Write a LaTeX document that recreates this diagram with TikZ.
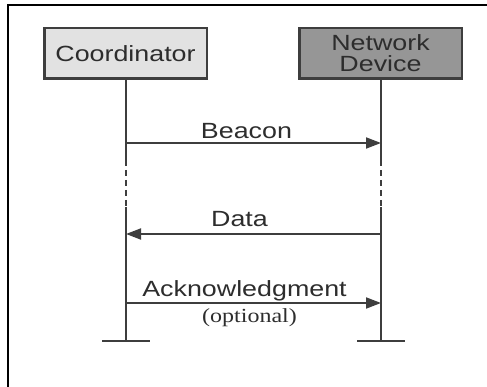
\documentclass[tikz,border=0pt]{standalone}
\usepackage{fontspec}
\setmainfont{Liberation Sans}[FakeStretch=1.22]
\newfontfamily\optfont{Liberation Serif}[FakeStretch=1.2]
\usetikzlibrary{positioning}
\usetikzlibrary{arrows.meta}
\definecolor{inkgray}{RGB}{62,62,62}
\definecolor{textgray}{RGB}{45,45,45}
\definecolor{boxlight}{RGB}{226,226,226}
\definecolor{boxdark}{RGB}{150,150,150}
\tikzset{
        % Participant boxes
        actor/.style={draw=inkgray, line width=2.5pt, text=textgray, align=center, inner sep=0pt,
                minimum width=162.5pt, minimum height=50.5pt, font=\fontsize{22}{21}\selectfont},
        actor_light/.style={actor, fill=boxlight},
        actor_dark/.style={actor, fill=boxdark},
        % Lifelines
        lifeline/.style={draw=inkgray, line width=2.5pt},
        lifeline_gap/.style={lifeline, dash pattern=on 6pt off 4pt},
        % Messages
        msg/.style={draw=inkgray, line width=1.8pt, -{Triangle[length=15pt,width=11pt]}},
        msg_label/.style={text=textgray, inner sep=0pt, anchor=base, font=\fontsize{22}{22}\selectfont},
        % Outer frame
        frame/.style={draw=black, line width=2pt}
}
\begin{document}
\begin{tikzpicture}[x=1pt, y=-1pt]
        \useasboundingbox (0,0) rectangle (487,387);
        \draw[frame] (8,387) -- (8,5) -- (487,5);

        \node[actor_light] (coord) at (125.5,53.5) {Coordinator};
        \node[actor_dark] (netdev) at (380.5,53.5) {Network\\Device};

        % lifeline points
        \coordinate (coord_gap_a) at (126,160);
        \coordinate (coord_gap_b) at (126,207);
        \coordinate (coord_end) at (126,341);
        \coordinate (netdev_gap_a) at (381,160);
        \coordinate (netdev_gap_b) at (381,207);
        \coordinate (netdev_end) at (381,341);

        \draw[lifeline] (coord.south -| coord_end) -- (coord_gap_a);
        \draw[lifeline_gap] (coord_gap_a) -- (coord_gap_b);
        \draw[lifeline] (coord_gap_b) -- (coord_end);
        \draw[lifeline] (netdev.south -| netdev_end) -- (netdev_gap_a);
        \draw[lifeline_gap] (netdev_gap_a) -- (netdev_gap_b);
        \draw[lifeline] (netdev_gap_b) -- (netdev_end);

        % end bars
        \draw[lifeline] ([xshift=-24pt]coord_end) -- ([xshift=24pt]coord_end);
        \draw[lifeline] ([xshift=-24pt]netdev_end) -- ([xshift=24pt]netdev_end);

        % messages
        \coordinate (coord_beacon) at (126,143);
        \coordinate (netdev_beacon) at (381,143);
        \coordinate (coord_data) at (126,234);
        \coordinate (netdev_data) at (381,234);
        \coordinate (coord_ack) at (126,303);
        \coordinate (netdev_ack) at (381,303);

        \draw[msg] (coord_beacon) -- node[msg_label, xshift=-7pt, yshift=4pt] {Beacon} (netdev_beacon);
        \draw[msg] (netdev_data) -- node[msg_label, xshift=-14pt, yshift=7pt] {Data} (coord_data);
        \draw[msg] (coord_ack) -- node[msg_label, xshift=-9pt, yshift=7pt] {Acknowledgment}
                node[msg_label, xshift=-4pt, yshift=-19pt, font=\optfont\fontsize{20}{20}\selectfont] {(optional)} (netdev_ack);
\end{tikzpicture}
\end{document}
